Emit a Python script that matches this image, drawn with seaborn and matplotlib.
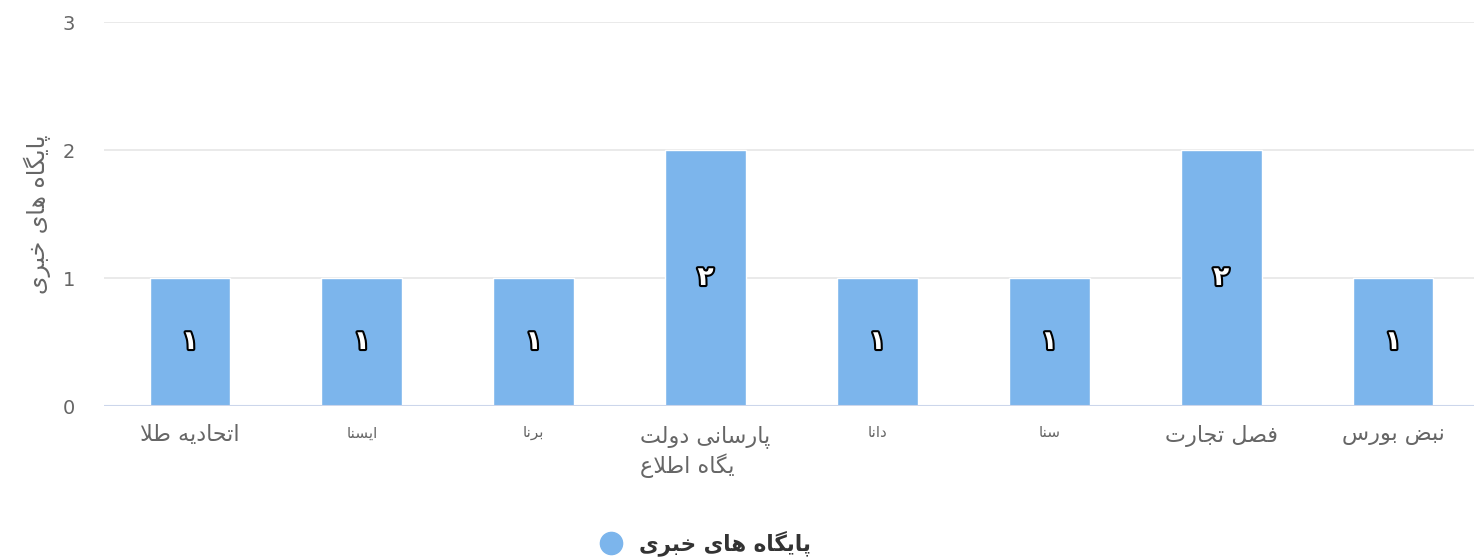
import matplotlib
matplotlib.use('Agg')
import matplotlib.pyplot as plt
import matplotlib.patheffects as pe
from matplotlib.lines import Line2D
import pandas as pd
import seaborn as sns

# Chart data
categories = ['اتحادیه طلا', 'ایسنا', 'برنا', 'پارسانی دولت\nیگاه اطلاع',
              'دانا', 'سنا', 'فصل تجارت', 'نبض بورس']
counts = [1, 1, 1, 2, 1, 1, 2, 1]
series_name = 'پایگاه های خبری'
y_ticks = [0, 1, 2, 3]

# Minimal Persian shaping (matplotlib has no complex text layout)
# forms: isolated, final, initial, medial
FORMS = {
    'ا': ('\uFE8D', '\uFE8E', None, None),
    'ب': ('\uFE8F', '\uFE90', '\uFE91', '\uFE92'),
    'پ': ('\uFB56', '\uFB57', '\uFB58', '\uFB59'),
    'ت': ('\uFE95', '\uFE96', '\uFE97', '\uFE98'),
    'ج': ('\uFE9D', '\uFE9E', '\uFE9F', '\uFEA0'),
    'ح': ('\uFEA1', '\uFEA2', '\uFEA3', '\uFEA4'),
    'خ': ('\uFEA5', '\uFEA6', '\uFEA7', '\uFEA8'),
    'د': ('\uFEA9', '\uFEAA', None, None),
    'ر': ('\uFEAD', '\uFEAE', None, None),
    'س': ('\uFEB1', '\uFEB2', '\uFEB3', '\uFEB4'),
    'ص': ('\uFEB9', '\uFEBA', '\uFEBB', '\uFEBC'),
    'ض': ('\uFEBD', '\uFEBE', '\uFEBF', '\uFEC0'),
    'ط': ('\uFEC1', '\uFEC2', '\uFEC3', '\uFEC4'),
    'ع': ('\uFEC9', '\uFECA', '\uFECB', '\uFECC'),
    'ف': ('\uFED1', '\uFED2', '\uFED3', '\uFED4'),
    'ل': ('\uFEDD', '\uFEDE', '\uFEDF', '\uFEE0'),
    'ن': ('\uFEE5', '\uFEE6', '\uFEE7', '\uFEE8'),
    'ه': ('\uFEE9', '\uFEEA', '\uFEEB', '\uFEEC'),
    'و': ('\uFEED', '\uFEEE', None, None),
    'گ': ('\uFB92', '\uFB93', '\uFB94', '\uFB95'),
    'ی': ('\uFBFC', '\uFBFD', '\uFBFE', '\uFBFF'),
}


def shape_line(s):
    out = []
    i = 0
    while i < len(s):
        c = s[i]
        if c not in FORMS:
            out.append(c)
            i += 1
            continue
        prev = s[i - 1] if i > 0 else ''
        prev_joins = prev in FORMS and FORMS[prev][2] is not None
        if c == 'ل' and i + 1 < len(s) and s[i + 1] == 'ا':
            out.append('\uFEFC' if prev_joins else '\uFEFB')
            i += 2
            continue
        nxt = s[i + 1] if i + 1 < len(s) else ''
        next_joins = nxt in FORMS and FORMS[c][2] is not None
        iso, fin, ini, med = FORMS[c]
        if prev_joins and next_joins:
            out.append(med)
        elif prev_joins:
            out.append(fin)
        elif next_joins:
            out.append(ini)
        else:
            out.append(iso)
        i += 1
    return ''.join(reversed(out))


def fa(s):
    return '\n'.join(shape_line(line) for line in s.split('\n'))


def fa_digits(n):
    return str(n).translate(str.maketrans('0123456789', '۰۱۲۳۴۵۶۷۸۹'))


df = pd.DataFrame({'category': categories, 'count': counts})

sns.set_style('white')
plt.rcParams['font.family'] = ['DejaVu Sans']

fig = plt.figure(figsize=(14.74, 5.59), dpi=100)
ax = fig.add_axes([104 / 1474, 153 / 559, 1375 / 1474, 384 / 559])

bar_color = '#7cb5ec'
sns.barplot(data=df, x='category', y='count', color=bar_color, width=0.47,
            saturation=1, ax=ax, zorder=3)
for p in ax.patches:
    p.set_edgecolor('white')
    p.set_linewidth(1)

ax.set_xlim(-0.5, len(categories) - 0.5)
ax.set_ylim(0, 3)
ax.set_yticks(y_ticks)
ax.set_yticklabels([str(t) for t in y_ticks], color='#666666', fontsize=14)
ax.grid(axis='y', color='#e6e6e6', linewidth=1.2, zorder=0)
ax.set_axisbelow(True)
for side in ['top', 'right', 'left', 'bottom']:
    ax.spines[side].set_visible(False)
ax.axhline(0, color='#ccd6eb', linewidth=1.5, zorder=4)
ax.tick_params(axis='y', length=0, pad=21)
ax.tick_params(axis='x', length=0, pad=14)

ax.set_xticks(range(len(categories)))
ax.set_xticklabels([fa(c) for c in categories], color='#666666')
for lbl, c in zip(ax.get_xticklabels(), categories):
    lbl.set_fontsize(11 if len(c) <= 5 else 16)
    lbl.set_multialignment('left')
    lbl.set_verticalalignment('top')
    lbl.set_linespacing(1.25)

ax.set_xlabel('')
ax.set_ylabel(fa(series_name), color='#666666', fontsize=17, labelpad=8)

# data labels
for i, v in enumerate(counts):
    ax.text(i, v / 2, fa_digits(v), ha='center', va='center', fontsize=19,
            fontweight='bold', color='white', zorder=5,
            path_effects=[pe.withStroke(linewidth=3, foreground='black')])

handle = Line2D([], [], marker='o', linestyle='none', markersize=16,
                markerfacecolor=bar_color, markeredgecolor=bar_color)
fig.legend([handle], [fa(series_name)], loc='center', bbox_to_anchor=(700 / 1474, 1 - 543 / 559),
           frameon=False, handletextpad=0.3,
           prop={'size': 15.5, 'weight': 'bold'}, labelcolor='#333333')

fig.savefig('out.png', dpi=100)
